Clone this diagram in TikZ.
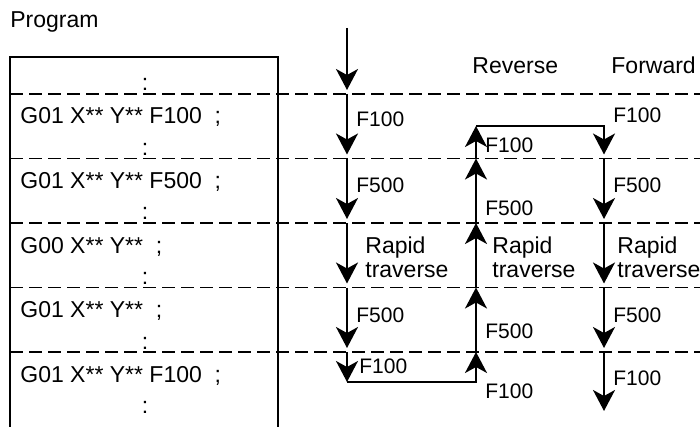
\documentclass[tikz,border=0pt]{standalone}
\usepackage{fontspec}
\setmainfont{Liberation Sans}
\usetikzlibrary{arrows.meta}
\begin{document}
\begin{tikzpicture}[x=0.5pt,y=-0.5pt,
  txt/.style={inner sep=0pt, anchor=base west, font=\fontsize{11.5}{13}\selectfont},
  flab/.style={inner sep=0pt, anchor=base west, font=\fontsize{10.5}{12}\selectfont},
  colon/.style={inner sep=0pt, anchor=base, font=\fontsize{11.5}{13}\selectfont},
  boxline/.style={line width=0.75pt},
  sep/.style={line width=0.75pt, dash pattern=on 6.5pt off 3pt},
  flow/.style={line width=1pt, -{Stealth[length=10.5pt,width=11pt,inset=3pt]}},
  fdown/.style={flow, shorten >=2pt}]
\useasboundingbox (0,0) rectangle (700,427);

% ---- title and headers
\node[txt] (prog) at (10,28) {Program};
\node[txt] (rev) at (472,74) {Reverse};
\node[txt] (fwd) at (611,74) {Forward};

% ---- separator lines
\foreach \i/\y in {0/94,1/158.5,2/223,3/287.5,4/352} {
  \coordinate (sl\i) at (10,\y);
  \coordinate (sr\i) at (700,\y);
  \draw[sep] (sl\i) -- (sr\i);
}

% ---- program box (open at the bottom)
\coordinate (bl) at (10,427);
\coordinate (tl) at (10,57);
\coordinate (tr) at (278,57);
\coordinate (br) at (278,427);
\draw[boxline] (bl) -- (tl) -- (tr) -- (br);

% ---- program lines
\node[txt] (r1) at (20,124) {G01 X** Y** F100\ \ ;};
\node[txt] (r2) at (20,188.5) {G01 X** Y** F500\ \ ;};
\node[txt] (r3) at (20,253) {G00 X** Y**\ \ ;};
\node[txt] (r4) at (20,317.5) {G01 X** Y**\ \ ;};
\node[txt] (r5) at (20,382) {G01 X** Y** F100\ \ ;};
\foreach \i/\y in {0/91,1/155.5,2/220,3/284.5,4/349,5/413.5}
  \node[colon] (c\i) at (145,\y) {:};

% ---- column coordinates
\foreach \i/\y in {0/94,1/158.5,2/223,3/287.5,4/352} {
  \coordinate (a\i) at (347,\y);
  \coordinate (b\i) at (476,\y);
  \coordinate (f\i) at (604,\y);
}
\coordinate (astart) at (347,28);
\coordinate (abot) at (347,382);
\coordinate (bbot) at (476,382);
\coordinate (btop) at (476,126);
\coordinate (ftop) at (604,126);
\coordinate (fend) at (604,411);

% ---- program flow
\draw[fdown] (astart) -- (a0);
\draw[fdown] (a0) -- (a1);
\draw[fdown] (a1) -- (a2);
\draw[fdown] (a2) -- (a3);
\draw[fdown] (a3) -- (a4);
\draw[flow] (a4) -- (abot);

% ---- reverse
\draw[flow] (abot) -- (bbot) -- (b4);
\draw[flow] (b4) -- (b3);
\draw[flow] (b3) -- (b2);
\draw[flow] (b2) -- (b1);
\draw[flow] (b1) -- (btop);

% ---- forward
\draw[fdown] (btop) -- (ftop) -- (f1);
\draw[fdown] (f1) -- (f2);
\draw[fdown] (f2) -- (f3);
\draw[fdown] (f3) -- (f4);
\draw[flow] (f4) -- (fend);

% ---- labels, program column
\node[flab] (la1) at (356,127) {F100};
\node[flab] (la2) at (356,192) {F500};
\node[txt] (la3a) at (365,253) {Rapid};
\node[txt] (la3b) at (365,277) {traverse};
\node[flab] (la4) at (356,322) {F500};
\node[flab] (la5) at (359,373) {F100};

% ---- labels, reverse column
\node[flab] (lb1) at (485,153) {F100};
\node[flab] (lb2) at (485,215) {F500};
\node[txt] (lb3a) at (492,253) {Rapid};
\node[txt] (lb3b) at (492,277) {traverse};
\node[flab] (lb4) at (485,338) {F500};
\node[flab] (lb5) at (485,398) {F100};

% ---- labels, forward column
\node[flab] (lf1) at (613,123) {F100};
\node[flab] (lf2) at (613,192) {F500};
\node[txt] (lf3a) at (617,253) {Rapid};
\node[txt] (lf3b) at (617,277) {traverse};
\node[flab] (lf4) at (613,322) {F500};
\node[flab] (lf5) at (613,385) {F100};
\end{tikzpicture}
\end{document}
